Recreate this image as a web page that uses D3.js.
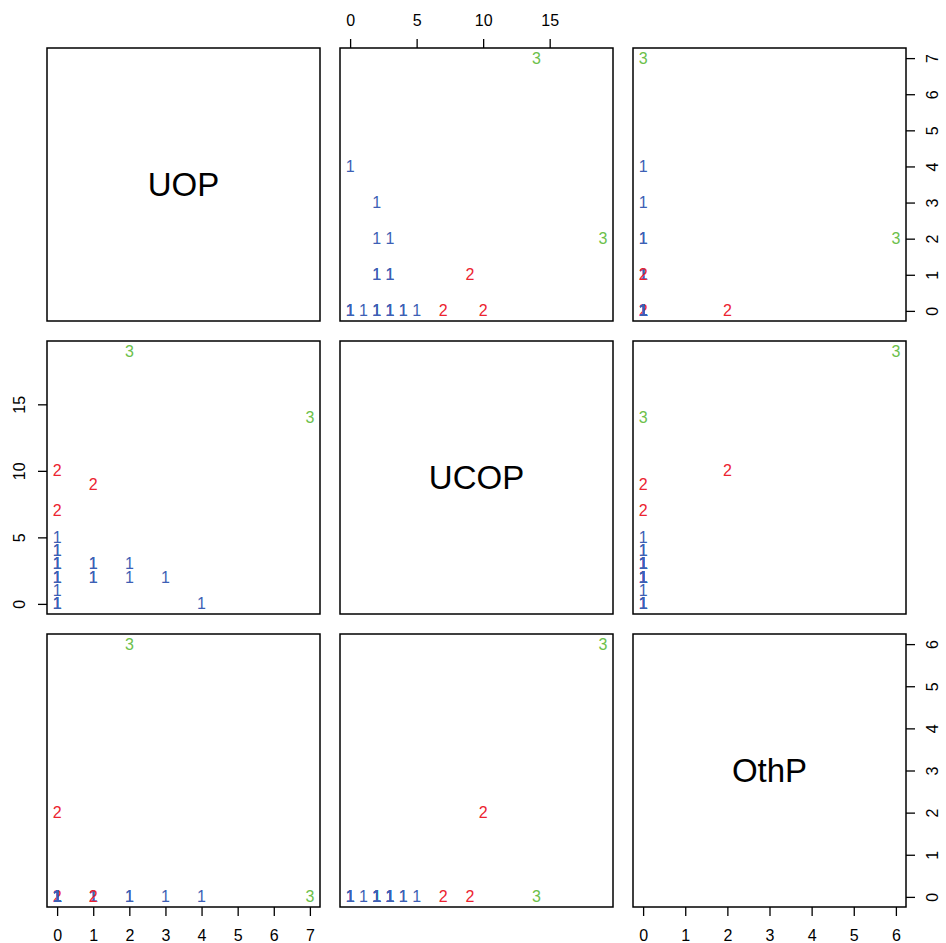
<!DOCTYPE html>
<html>
<head>
<meta charset="utf-8">
<script src="https://cdn.jsdelivr.net/npm/d3@7"></script>
<style>
  html, body { margin: 0; padding: 0; background: #fff; }
  svg text { font-family: "Liberation Sans", Arial, Helvetica, sans-serif; }
</style>
</head>
<body>
<svg id="chart" width="946" height="943"></svg>
<script>
// Variables of the scatterplot matrix
const variables = ["UOP", "UCOP", "OthP"];

// Observations (one entry per row), with cluster membership
const uop  = [0, 0,0,0, 0, 0,0,0, 0,0,0, 0,0, 0, 1,1, 1,1, 2, 2, 3, 4, 1, 0, 7, 2];
const ucop = [7, 0,0,0, 1, 2,2,2, 3,3,3, 4,4, 5, 2,2, 3,3, 2, 3, 2, 0, 9, 10, 14, 19];
const othp = [0, 0,0,0, 0, 0,0,0, 0,0,0, 0,0, 0, 0,0, 0,0, 0, 0, 0, 0, 0, 2, 0, 6];
const cluster = [2, 1,1,1, 1, 1,1,1, 1,1,1, 1,1, 1, 1,1, 1,1, 1, 1, 1, 1, 2, 2, 3, 3];

// Tick values per variable
const ticksUOP  = [0, 1, 2, 3, 4, 5, 6, 7];
const ticksUCOP = [0, 5, 10, 15];
const ticksOthP = [0, 1, 2, 3, 4, 5, 6];

const clusterColors = { 1: "#3d5fb5", 2: "#ec2330", 3: "#6cbf4a" };

const columns = { UOP: uop, UCOP: ucop, OthP: othp };
const tickSets = { UOP: ticksUOP, UCOP: ticksUCOP, OthP: ticksOthP };

const svg = d3.select("#chart");

const originX = 47, originY = 48, size = 273, gap = 20;
const tickLen = 9, labelOff = 28;
const tickFont = 16, pointFont = 16, diagFont = 33;
const fmt = d3.format("d");

// Padded linear scale over a variable's range (4% each side)
function paddedDomain(vals) {
  const [lo, hi] = d3.extent(vals);
  const pad = (hi - lo) * 0.04;
  return [lo - pad, hi + pad];
}

const xScales = {}, yScales = {};
variables.forEach((v, k) => {
  const x0 = originX + k * (size + gap);
  const y0 = originY + k * (size + gap);
  xScales[v] = d3.scaleLinear().domain(paddedDomain(columns[v])).range([x0, x0 + size]);
  yScales[v] = d3.scaleLinear().domain(paddedDomain(columns[v])).range([y0 + size, y0]);
});

const n = uop.length;

variables.forEach((rv, i) => {
  variables.forEach((cv, j) => {
    const x0 = originX + j * (size + gap);
    const y0 = originY + i * (size + gap);
    const g = svg.append("g");

    if (i === j) {
      g.append("text")
        .attr("x", x0 + size / 2)
        .attr("y", y0 + size / 2)
        .attr("text-anchor", "middle")
        .attr("dominant-baseline", "central")
        .attr("font-size", diagFont)
        .attr("fill", "#000")
        .text(rv);
    } else {
      const xs = xScales[cv], ys = yScales[rv];
      const xv = columns[cv], yv = columns[rv];
      g.selectAll("text.pt")
        .data(d3.range(n))
        .join("text")
        .attr("class", "pt")
        .attr("x", d => xs(xv[d]))
        .attr("y", d => ys(yv[d]))
        .attr("text-anchor", "middle")
        .attr("dominant-baseline", "central")
        .attr("font-size", pointFont)
        .attr("fill", d => clusterColors[cluster[d]])
        .text(d => cluster[d]);
    }

    g.append("rect")
      .attr("x", x0).attr("y", y0)
      .attr("width", size).attr("height", size)
      .attr("fill", "none")
      .attr("stroke", "#000")
      .attr("stroke-width", 1.5);
  });
});

// Axes: alternate sides as in a pairs layout
function styleAxis(sel) {
  sel.select(".domain").remove();
  sel.selectAll(".tick line").attr("stroke", "#000").attr("stroke-width", 1.3);
  sel.selectAll(".tick text").attr("font-size", tickFont).attr("fill", "#000")
     .attr("font-family", "Liberation Sans, Arial, sans-serif");
}

variables.forEach((v, k) => {
  const ticks = tickSets[v];
  if (k % 2 === 0) {
    // bottom axis under last row
    const yb = originY + 2 * (size + gap) + size;
    const ax = svg.append("g").attr("transform", `translate(0,${yb})`)
      .call(d3.axisBottom(xScales[v]).tickValues(ticks).tickFormat(fmt).tickSize(tickLen).tickSizeOuter(0).tickPadding(0));
    styleAxis(ax);
    ax.selectAll(".tick text").attr("y", labelOff).attr("dy", null).attr("dominant-baseline", "central");
    // right axis beside this row
    const xr = originX + 2 * (size + gap) + size;
    const ay = svg.append("g").attr("transform", `translate(${xr},0)`)
      .call(d3.axisRight(yScales[v]).tickValues(ticks).tickFormat(fmt).tickSize(tickLen).tickSizeOuter(0).tickPadding(0));
    styleAxis(ay);
    ay.selectAll(".tick text")
      .attr("x", null).attr("dy", null)
      .attr("text-anchor", "middle").attr("dominant-baseline", "central")
      .attr("transform", `translate(${labelOff - 2},0) rotate(-90)`);
  } else {
    // top axis above first row
    const ax = svg.append("g").attr("transform", `translate(0,${originY})`)
      .call(d3.axisTop(xScales[v]).tickValues(ticks).tickFormat(fmt).tickSize(tickLen).tickSizeOuter(0).tickPadding(0));
    styleAxis(ax);
    ax.selectAll(".tick text").attr("y", -labelOff).attr("dy", null).attr("dominant-baseline", "central");
    // left axis beside this row
    const ay = svg.append("g").attr("transform", `translate(${originX},0)`)
      .call(d3.axisLeft(yScales[v]).tickValues(ticks).tickFormat(fmt).tickSize(tickLen).tickSizeOuter(0).tickPadding(0));
    styleAxis(ay);
    ay.selectAll(".tick text")
      .attr("x", null).attr("dy", null)
      .attr("text-anchor", "middle").attr("dominant-baseline", "central")
      .attr("transform", `translate(${-labelOff},0) rotate(-90)`);
  }
});
</script>
</body>
</html>
